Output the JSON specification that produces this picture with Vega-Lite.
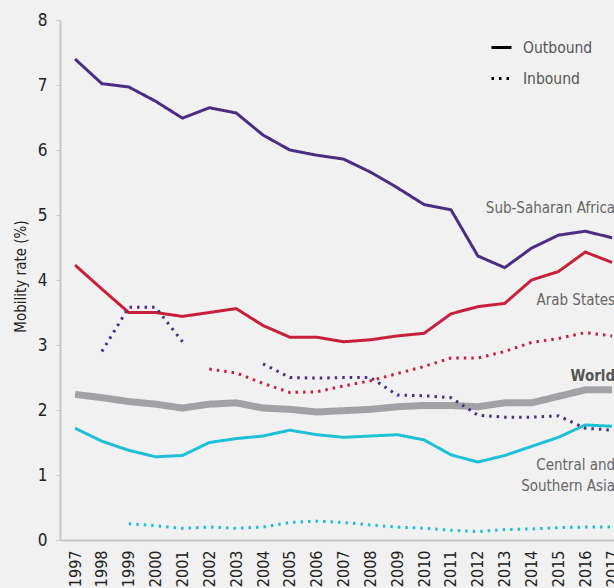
{
  "$schema": "https://vega.github.io/schema/vega-lite/v6.json",
  "autosize": {"type": "none"},
  "width": 554,
  "height": 520,
  "padding": {"left": 60, "top": 20, "right": 0, "bottom": 48},
  "background": "#f1f1f1",
  "config": {
    "view": {"stroke": null},
    "font": "Liberation Sans Narrow, DejaVu Sans Condensed, sans-serif"
  },
  "datasets": {
    "series": [
      {"r": "Sub-Saharan Africa", "t": "Outbound", "y": 1997, "v": 7.4},
      {"r": "Sub-Saharan Africa", "t": "Outbound", "y": 1998, "v": 7.02},
      {"r": "Sub-Saharan Africa", "t": "Outbound", "y": 1999, "v": 6.97},
      {"r": "Sub-Saharan Africa", "t": "Outbound", "y": 2000, "v": 6.75},
      {"r": "Sub-Saharan Africa", "t": "Outbound", "y": 2001, "v": 6.49},
      {"r": "Sub-Saharan Africa", "t": "Outbound", "y": 2002, "v": 6.65},
      {"r": "Sub-Saharan Africa", "t": "Outbound", "y": 2003, "v": 6.57},
      {"r": "Sub-Saharan Africa", "t": "Outbound", "y": 2004, "v": 6.23},
      {"r": "Sub-Saharan Africa", "t": "Outbound", "y": 2005, "v": 6.0},
      {"r": "Sub-Saharan Africa", "t": "Outbound", "y": 2006, "v": 5.92},
      {"r": "Sub-Saharan Africa", "t": "Outbound", "y": 2007, "v": 5.86},
      {"r": "Sub-Saharan Africa", "t": "Outbound", "y": 2008, "v": 5.66},
      {"r": "Sub-Saharan Africa", "t": "Outbound", "y": 2009, "v": 5.42},
      {"r": "Sub-Saharan Africa", "t": "Outbound", "y": 2010, "v": 5.16},
      {"r": "Sub-Saharan Africa", "t": "Outbound", "y": 2011, "v": 5.08},
      {"r": "Sub-Saharan Africa", "t": "Outbound", "y": 2012, "v": 4.37},
      {"r": "Sub-Saharan Africa", "t": "Outbound", "y": 2013, "v": 4.19},
      {"r": "Sub-Saharan Africa", "t": "Outbound", "y": 2014, "v": 4.49},
      {"r": "Sub-Saharan Africa", "t": "Outbound", "y": 2015, "v": 4.69},
      {"r": "Sub-Saharan Africa", "t": "Outbound", "y": 2016, "v": 4.75},
      {"r": "Sub-Saharan Africa", "t": "Outbound", "y": 2017, "v": 4.65},
      {"r": "Arab States", "t": "Outbound", "y": 1997, "v": 4.23},
      {"r": "Arab States", "t": "Outbound", "y": 1998, "v": 3.86},
      {"r": "Arab States", "t": "Outbound", "y": 1999, "v": 3.5},
      {"r": "Arab States", "t": "Outbound", "y": 2000, "v": 3.5},
      {"r": "Arab States", "t": "Outbound", "y": 2001, "v": 3.44},
      {"r": "Arab States", "t": "Outbound", "y": 2002, "v": 3.5},
      {"r": "Arab States", "t": "Outbound", "y": 2003, "v": 3.56},
      {"r": "Arab States", "t": "Outbound", "y": 2004, "v": 3.3},
      {"r": "Arab States", "t": "Outbound", "y": 2005, "v": 3.12},
      {"r": "Arab States", "t": "Outbound", "y": 2006, "v": 3.12},
      {"r": "Arab States", "t": "Outbound", "y": 2007, "v": 3.05},
      {"r": "Arab States", "t": "Outbound", "y": 2008, "v": 3.08},
      {"r": "Arab States", "t": "Outbound", "y": 2009, "v": 3.14},
      {"r": "Arab States", "t": "Outbound", "y": 2010, "v": 3.18},
      {"r": "Arab States", "t": "Outbound", "y": 2011, "v": 3.48},
      {"r": "Arab States", "t": "Outbound", "y": 2012, "v": 3.59},
      {"r": "Arab States", "t": "Outbound", "y": 2013, "v": 3.64},
      {"r": "Arab States", "t": "Outbound", "y": 2014, "v": 4.0},
      {"r": "Arab States", "t": "Outbound", "y": 2015, "v": 4.13},
      {"r": "Arab States", "t": "Outbound", "y": 2016, "v": 4.43},
      {"r": "Arab States", "t": "Outbound", "y": 2017, "v": 4.27},
      {"r": "World", "t": "Outbound", "y": 1997, "v": 2.24},
      {"r": "World", "t": "Outbound", "y": 1998, "v": 2.19},
      {"r": "World", "t": "Outbound", "y": 1999, "v": 2.13},
      {"r": "World", "t": "Outbound", "y": 2000, "v": 2.09},
      {"r": "World", "t": "Outbound", "y": 2001, "v": 2.03},
      {"r": "World", "t": "Outbound", "y": 2002, "v": 2.09},
      {"r": "World", "t": "Outbound", "y": 2003, "v": 2.11},
      {"r": "World", "t": "Outbound", "y": 2004, "v": 2.03},
      {"r": "World", "t": "Outbound", "y": 2005, "v": 2.01},
      {"r": "World", "t": "Outbound", "y": 2006, "v": 1.97},
      {"r": "World", "t": "Outbound", "y": 2007, "v": 1.99},
      {"r": "World", "t": "Outbound", "y": 2008, "v": 2.01},
      {"r": "World", "t": "Outbound", "y": 2009, "v": 2.05},
      {"r": "World", "t": "Outbound", "y": 2010, "v": 2.07},
      {"r": "World", "t": "Outbound", "y": 2011, "v": 2.07},
      {"r": "World", "t": "Outbound", "y": 2012, "v": 2.05},
      {"r": "World", "t": "Outbound", "y": 2013, "v": 2.11},
      {"r": "World", "t": "Outbound", "y": 2014, "v": 2.11},
      {"r": "World", "t": "Outbound", "y": 2015, "v": 2.21},
      {"r": "World", "t": "Outbound", "y": 2016, "v": 2.31},
      {"r": "World", "t": "Outbound", "y": 2017, "v": 2.31},
      {"r": "Central and Southern Asia", "t": "Outbound", "y": 1997, "v": 1.72},
      {"r": "Central and Southern Asia", "t": "Outbound", "y": 1998, "v": 1.52},
      {"r": "Central and Southern Asia", "t": "Outbound", "y": 1999, "v": 1.38},
      {"r": "Central and Southern Asia", "t": "Outbound", "y": 2000, "v": 1.28},
      {"r": "Central and Southern Asia", "t": "Outbound", "y": 2001, "v": 1.3},
      {"r": "Central and Southern Asia", "t": "Outbound", "y": 2002, "v": 1.5},
      {"r": "Central and Southern Asia", "t": "Outbound", "y": 2003, "v": 1.56},
      {"r": "Central and Southern Asia", "t": "Outbound", "y": 2004, "v": 1.6},
      {"r": "Central and Southern Asia", "t": "Outbound", "y": 2005, "v": 1.69},
      {"r": "Central and Southern Asia", "t": "Outbound", "y": 2006, "v": 1.62},
      {"r": "Central and Southern Asia", "t": "Outbound", "y": 2007, "v": 1.58},
      {"r": "Central and Southern Asia", "t": "Outbound", "y": 2008, "v": 1.6},
      {"r": "Central and Southern Asia", "t": "Outbound", "y": 2009, "v": 1.62},
      {"r": "Central and Southern Asia", "t": "Outbound", "y": 2010, "v": 1.54},
      {"r": "Central and Southern Asia", "t": "Outbound", "y": 2011, "v": 1.31},
      {"r": "Central and Southern Asia", "t": "Outbound", "y": 2012, "v": 1.2},
      {"r": "Central and Southern Asia", "t": "Outbound", "y": 2013, "v": 1.3},
      {"r": "Central and Southern Asia", "t": "Outbound", "y": 2014, "v": 1.44},
      {"r": "Central and Southern Asia", "t": "Outbound", "y": 2015, "v": 1.58},
      {"r": "Central and Southern Asia", "t": "Outbound", "y": 2016, "v": 1.77},
      {"r": "Central and Southern Asia", "t": "Outbound", "y": 2017, "v": 1.75},
      {"r": "Sub-Saharan Africa", "t": "Inbound", "y": 1998, "v": 2.9},
      {"r": "Sub-Saharan Africa", "t": "Inbound", "y": 1999, "v": 3.58},
      {"r": "Sub-Saharan Africa", "t": "Inbound", "y": 2000, "v": 3.58},
      {"r": "Sub-Saharan Africa", "t": "Inbound", "y": 2001, "v": 3.05},
      {"r": "Sub-Saharan Africa", "t": "Inbound", "y": 2004, "v": 2.71, "g": 2},
      {"r": "Sub-Saharan Africa", "t": "Inbound", "y": 2005, "v": 2.5, "g": 2},
      {"r": "Sub-Saharan Africa", "t": "Inbound", "y": 2006, "v": 2.49, "g": 2},
      {"r": "Sub-Saharan Africa", "t": "Inbound", "y": 2007, "v": 2.5, "g": 2},
      {"r": "Sub-Saharan Africa", "t": "Inbound", "y": 2008, "v": 2.5, "g": 2},
      {"r": "Sub-Saharan Africa", "t": "Inbound", "y": 2009, "v": 2.23, "g": 2},
      {"r": "Sub-Saharan Africa", "t": "Inbound", "y": 2010, "v": 2.22, "g": 2},
      {"r": "Sub-Saharan Africa", "t": "Inbound", "y": 2011, "v": 2.19, "g": 2},
      {"r": "Sub-Saharan Africa", "t": "Inbound", "y": 2012, "v": 1.92, "g": 2},
      {"r": "Sub-Saharan Africa", "t": "Inbound", "y": 2013, "v": 1.89, "g": 2},
      {"r": "Sub-Saharan Africa", "t": "Inbound", "y": 2014, "v": 1.89, "g": 2},
      {"r": "Sub-Saharan Africa", "t": "Inbound", "y": 2015, "v": 1.91, "g": 2},
      {"r": "Sub-Saharan Africa", "t": "Inbound", "y": 2016, "v": 1.72, "g": 2},
      {"r": "Sub-Saharan Africa", "t": "Inbound", "y": 2017, "v": 1.69, "g": 2},
      {"r": "Arab States", "t": "Inbound", "y": 2002, "v": 2.63},
      {"r": "Arab States", "t": "Inbound", "y": 2003, "v": 2.57},
      {"r": "Arab States", "t": "Inbound", "y": 2004, "v": 2.41},
      {"r": "Arab States", "t": "Inbound", "y": 2005, "v": 2.27},
      {"r": "Arab States", "t": "Inbound", "y": 2006, "v": 2.28},
      {"r": "Arab States", "t": "Inbound", "y": 2007, "v": 2.37},
      {"r": "Arab States", "t": "Inbound", "y": 2008, "v": 2.45},
      {"r": "Arab States", "t": "Inbound", "y": 2009, "v": 2.56},
      {"r": "Arab States", "t": "Inbound", "y": 2010, "v": 2.67},
      {"r": "Arab States", "t": "Inbound", "y": 2011, "v": 2.8},
      {"r": "Arab States", "t": "Inbound", "y": 2012, "v": 2.8},
      {"r": "Arab States", "t": "Inbound", "y": 2013, "v": 2.9},
      {"r": "Arab States", "t": "Inbound", "y": 2014, "v": 3.04},
      {"r": "Arab States", "t": "Inbound", "y": 2015, "v": 3.1},
      {"r": "Arab States", "t": "Inbound", "y": 2016, "v": 3.19},
      {"r": "Arab States", "t": "Inbound", "y": 2017, "v": 3.14},
      {"r": "Central and Southern Asia", "t": "Inbound", "y": 1999, "v": 0.25},
      {"r": "Central and Southern Asia", "t": "Inbound", "y": 2000, "v": 0.22},
      {"r": "Central and Southern Asia", "t": "Inbound", "y": 2001, "v": 0.18},
      {"r": "Central and Southern Asia", "t": "Inbound", "y": 2002, "v": 0.2},
      {"r": "Central and Southern Asia", "t": "Inbound", "y": 2003, "v": 0.18},
      {"r": "Central and Southern Asia", "t": "Inbound", "y": 2004, "v": 0.2},
      {"r": "Central and Southern Asia", "t": "Inbound", "y": 2005, "v": 0.27},
      {"r": "Central and Southern Asia", "t": "Inbound", "y": 2006, "v": 0.29},
      {"r": "Central and Southern Asia", "t": "Inbound", "y": 2007, "v": 0.27},
      {"r": "Central and Southern Asia", "t": "Inbound", "y": 2008, "v": 0.23},
      {"r": "Central and Southern Asia", "t": "Inbound", "y": 2009, "v": 0.2},
      {"r": "Central and Southern Asia", "t": "Inbound", "y": 2010, "v": 0.18},
      {"r": "Central and Southern Asia", "t": "Inbound", "y": 2011, "v": 0.15},
      {"r": "Central and Southern Asia", "t": "Inbound", "y": 2012, "v": 0.13},
      {"r": "Central and Southern Asia", "t": "Inbound", "y": 2013, "v": 0.16},
      {"r": "Central and Southern Asia", "t": "Inbound", "y": 2014, "v": 0.17},
      {"r": "Central and Southern Asia", "t": "Inbound", "y": 2015, "v": 0.19},
      {"r": "Central and Southern Asia", "t": "Inbound", "y": 2016, "v": 0.2},
      {"r": "Central and Southern Asia", "t": "Inbound", "y": 2017, "v": 0.2}
    ],
    "labels": [
      {"label": "Sub-Saharan Africa", "y": 2017, "v": 5.11, "w": "normal"},
      {"label": "Arab States", "y": 2017, "v": 3.69, "w": "normal"},
      {"label": "World", "y": 2017, "v": 2.52, "w": "bold"},
      {"label": "Central and", "y": 2017, "v": 1.15, "w": "normal"},
      {"label": "Southern Asia", "y": 2017, "v": 0.83, "w": "normal"}
    ]
  },
  "encoding": {
    "x": {
      "field": "y", "type": "quantitative",
      "scale": {"domain": [1996.44, 2017.07], "nice": false, "zero": false},
      "axis": {
        "title": null, "values": [1997,1998,1999,2000,2001,2002,2003,2004,2005,2006,2007,2008,2009,2010,2011,2012,2013,2014,2015,2016,2017],
        "format": "d", "labelAngle": 270, "labelAlign": "right", "labelBaseline": "middle",
        "labelPadding": 10, "ticks": false, "grid": false, "domainColor": "#c8c8c8", "domainWidth": 2,
        "labelFontSize": 16, "labelColor": "#222222", "labelFlush": false, "labelOverlap": false
      }
    },
    "y": {
      "field": "v", "type": "quantitative",
      "scale": {"domain": [0, 8], "nice": false},
      "axis": {
        "title": "Mobility rate (%)", "values": [0,1,2,3,4,5,6,7,8], "grid": false,
        "domainColor": "#c8c8c8", "domainWidth": 2, "tickColor": "#c8c8c8", "tickSize": 4,
        "labelPadding": 9, "labelFontSize": 17, "labelColor": "#222222",
        "titleFontSize": 15, "titleFontWeight": "normal", "titleColor": "#222222",
        "titleX": -40, "titleY": 256, "titleAngle": 270, "titleAlign": "center", "titleBaseline": "middle"
      }
    }
  },
  "layer": [
    {
      "data": {"name": "series"},
      "mark": {"type": "line", "strokeJoin": "miter"},
      "encoding": {
        "color": {
          "field": "r", "type": "nominal", "legend": null,
          "scale": {"domain": ["Sub-Saharan Africa", "Arab States", "World", "Central and Southern Asia"],
                    "range": ["#4b2e83", "#c8203c", "#a2a2a6", "#1ec0d8"]}
        },
        "strokeWidth": {"condition": {"test": "datum.r == 'World'", "value": 7}, "value": 3},
        "strokeDash": {
          "field": "t", "type": "nominal",
          "scale": {"domain": ["Outbound", "Inbound"], "range": [[1, 0], [2.5, 5]]},
          "legend": {
            "title": null, "orient": "none", "legendX": 430, "legendY": 16, "padding": 0,
            "symbolType": "stroke", "symbolSize": 400, "symbolStrokeColor": "#000000", "symbolStrokeWidth": 3,
            "labelFontSize": 15.5, "labelColor": "#555555", "labelOffset": 10, "rowPadding": 11
          }
        },
        "detail": {"field": "g"},
        "order": {"field": "y", "type": "quantitative"}
      }
    },
    {
      "data": {"name": "labels"},
      "transform": [{"filter": "datum.w == 'normal'"}],
      "mark": {"type": "text", "align": "right", "baseline": "middle", "dx": 3, "fontSize": 15, "color": "#666666"},
      "encoding": {"text": {"field": "label"}}
    },
    {
      "data": {"name": "labels"},
      "transform": [{"filter": "datum.w == 'bold'"}],
      "mark": {"type": "text", "align": "right", "baseline": "middle", "dx": 3, "fontSize": 15, "fontWeight": "bold", "color": "#555555"},
      "encoding": {"text": {"field": "label"}}
    }
  ]
}
